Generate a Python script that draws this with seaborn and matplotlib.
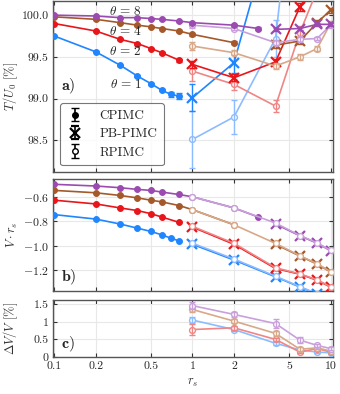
import numpy as np
import matplotlib
matplotlib.use("Agg")
import matplotlib.pyplot as plt
import seaborn as sns

# ---------------- data ----------------
thetas = ["1", "2", "4", "8"]
dark_colors = ["#1f86ff", "#e8161b", "#a5592b", "#9b4bb0"]
light_colors = ["#8cbcff", "#f08585", "#d8a888", "#c9a0dc"]

# panel a: T/U0 [%]
cp_rs = {
    "1": [0.1, 0.2, 0.3, 0.4, 0.5, 0.6, 0.7, 0.8],
    "2": [0.1, 0.2, 0.3, 0.4, 0.5, 0.6, 0.8],
    "4": [0.1, 0.2, 0.3, 0.4, 0.5, 0.6, 0.8, 1, 2],
    "8": [0.1, 0.2, 0.3, 0.4, 0.5, 0.6, 0.8, 1, 2, 3],
}
cp_T = {
    "1": [99.75, 99.56, 99.40, 99.27, 99.18, 99.10, 99.05, 99.03],
    "2": [99.90, 99.81, 99.71, 99.66, 99.60, 99.55, 99.46],
    "4": [99.98, 99.95, 99.91, 99.88, 99.86, 99.84, 99.81, 99.77, 99.67],
    "8": [100.0, 99.99, 99.97, 99.97, 99.96, 99.95, 99.93, 99.91, 99.88, 99.84],
}
cp_T_err = {
    "1": [0.005, 0.005, 0.008, 0.01, 0.012, 0.015, 0.03, 0.035],
    "2": [0.005, 0.005, 0.006, 0.008, 0.01, 0.012, 0.02],
    "4": [0.004, 0.004, 0.005, 0.005, 0.006, 0.008, 0.01, 0.015, 0.02],
    "8": [0.003, 0.003, 0.004, 0.004, 0.005, 0.005, 0.006, 0.01, 0.015, 0.015],
}
pb_rs_a = {
    "1": [1, 2, 4],
    "2": [1, 2, 4, 6, 8],
    "4": [4, 6, 8, 10],
    "8": [4, 6, 8, 10],
}
pb_T = {
    "1": [99.01, 99.43, 101.2],
    "2": [99.41, 99.25, 99.44, 100.10, 100.40],
    "4": [99.64, 99.69, 99.91, 100.06],
    "8": [99.83, 99.84, 99.89, 99.89],
}
pb_T_err = {
    "1": [0.16, 0.12, 0.10],
    "2": [0.04, 0.04, 0.04, 0.05, 0.05],
    "4": [0.03, 0.03, 0.03, 0.03],
    "8": [0.02, 0.02, 0.02, 0.02],
}
rp_rs_a = {
    "1": [1, 2, 4, 6],
    "2": [1, 2, 4, 6, 8],
    "4": [1, 2, 4, 6, 8, 10],
    "8": [1, 2, 4, 6, 8, 10],
}
rp_T = {
    "1": [98.51, 98.78, 99.72, 102.3],
    "2": [99.33, 99.17, 98.91, 99.79, 100.30],
    "4": [99.63, 99.55, 99.39, 99.50, 99.60, 99.90],
    "8": [99.88, 99.84, 99.67, 99.71, 99.72, 99.88],
}
rp_T_err = {
    "1": [0.34, 0.20, 0.22, 0.30],
    "2": [0.12, 0.07, 0.07, 0.08, 0.10],
    "4": [0.05, 0.03, 0.04, 0.04, 0.03, 0.03],
    "8": [0.03, 0.02, 0.03, 0.03, 0.02, 0.03],
}

# panel b: V * r_s
cp_V = {
    "1": [-0.744, -0.781, -0.822, -0.856, -0.883, -0.911, -0.939, -0.961],
    "2": [-0.625, -0.656, -0.689, -0.711, -0.736, -0.764, -0.808],
    "4": [-0.544, -0.564, -0.586, -0.606, -0.625, -0.639, -0.669, -0.703, -0.828],
    "8": [-0.494, -0.508, -0.522, -0.536, -0.544, -0.558, -0.578, -0.597, -0.689, -0.764],
}
pb_rs_b = {
    "1": [1, 2, 4, 6, 8, 10],
    "2": [1, 2, 4, 6, 8, 10],
    "4": [4, 6, 8, 10],
    "8": [4, 6, 8, 10],
}
pb_V = {
    "1": [-0.989, -1.119, -1.258, -1.342, -1.400, -1.450],
    "2": [-0.847, -0.989, -1.189, -1.236, -1.286, -1.342],
    "4": [-0.989, -1.086, -1.153, -1.217],
    "8": [-0.822, -0.919, -0.980, -1.042],
}
rp_rs_b = [1, 2, 4, 6, 8, 10]
rp_V = {
    "1": [-0.980, -1.111, -1.253, -1.339, -1.398, -1.448],
    "2": [-0.841, -0.981, -1.183, -1.234, -1.283, -1.340],
    "4": [-0.703, -0.828, -0.982, -1.084, -1.150, -1.215],
    "8": [-0.597, -0.689, -0.814, -0.917, -0.977, -1.040],
}

# panel c: Delta V / V [%]
rp_rs_c = [1, 2, 4, 6, 8, 10]
dV = {
    "1": [1.05, 0.78, 0.39, 0.20, 0.14, 0.12],
    "2": [0.78, 0.83, 0.50, 0.14, 0.24, 0.14],
    "4": [1.35, 1.02, 0.67, 0.22, 0.26, 0.17],
    "8": [1.46, 1.21, 0.95, 0.48, 0.33, 0.24],
}
dV_err = {
    "1": [0.08, 0.05, 0.04, 0.03, 0.03, 0.03],
    "2": [0.15, 0.06, 0.05, 0.04, 0.04, 0.04],
    "4": [0.08, 0.06, 0.06, 0.06, 0.04, 0.04],
    "8": [0.10, 0.06, 0.12, 0.08, 0.05, 0.05],
}

x_ticks = [0.1, 0.2, 0.5, 1, 2, 5, 10]
x_ticklabels = ["0.1", "0.2", "0.5", "1", "2", "5", "10"]
a_ticks = [98.5, 99.0, 99.5, 100.0]
a_ticklabels = ["98.5", "99.0", "99.5", "100.0"]
b_ticks = [-1.2, -1.0, -0.8, -0.6]
b_ticklabels = ["$-1.2$", "$-1.0$", "$-0.8$", "$-0.6$"]
c_ticks = [0, 0.5, 1, 1.5]
c_ticklabels = ["0", "0.5", "1", "1.5"]
theta_text = [r"$\theta\,=\,8$", r"$\theta\,=\,4$", r"$\theta\,=\,2$", r"$\theta\,=\,1$"]
theta_y = [100.04, 99.81, 99.56, 99.17]

# ---------------- style ----------------
sns.set_style("ticks")
plt.rcParams.update({
    "font.family": "serif",
    "font.serif": ["cmr10", "DejaVu Serif"],
    "mathtext.fontset": "cm",
    "axes.formatter.use_mathtext": True,
    "font.size": 8.5,
    "axes.unicode_minus": True,
})

fig = plt.figure(figsize=(3.4, 3.94), dpi=100)
L, W = 0.156, 0.823
ax_a = fig.add_axes([L, 0.5635, W, 0.434])
ax_b = fig.add_axes([L, 0.2614, W, 0.2843])
ax_c = fig.add_axes([L, 0.0939, W, 0.1447])

LW = 1.2
CAP = 2.5


def draw(ax, x, y, err, color, kind, zorder):
    if kind == "cp":
        mk = dict(marker="o", markersize=4.2, markerfacecolor=color, markeredgecolor=color)
    elif kind == "pb":
        mk = dict(marker="x", markersize=7, markeredgewidth=1.6, markeredgecolor=color)
    else:
        mk = dict(marker="o", markersize=4.2, markerfacecolor="white", markeredgecolor=color,
                  markeredgewidth=1.0)
    sns.lineplot(x=x, y=y, ax=ax, color=color, linewidth=LW, zorder=zorder,
                 estimator=None, sort=False, legend=False, **mk)
    if err is not None:
        ax.errorbar(x, y, yerr=err, fmt="none", ecolor=color, elinewidth=1.0,
                    capsize=CAP, capthick=1.0, zorder=zorder)


for i, th in enumerate(thetas):
    dc, lc = dark_colors[i], light_colors[i]
    z = 3 + i
    # panel a
    draw(ax_a, rp_rs_a[th], rp_T[th], rp_T_err[th], lc, "rp", z)
    draw(ax_a, pb_rs_a[th], pb_T[th], pb_T_err[th], dc, "pb", z + 0.5)
    draw(ax_a, cp_rs[th], cp_T[th], cp_T_err[th], dc, "cp", z + 0.5)
    # panel b
    draw(ax_b, cp_rs[th], cp_V[th], None, dc, "cp", z)
    draw(ax_b, pb_rs_b[th], pb_V[th], None, dc, "pb", z)
    draw(ax_b, rp_rs_b, rp_V[th], None, lc, "rp", z + 0.5)
    # panel c
    draw(ax_c, rp_rs_c, dV[th], dV_err[th], lc, "rp", z)

for ax in (ax_a, ax_b, ax_c):
    ax.set_xscale("log")
    ax.set_xlim(0.098, 10.4)
    ax.set_xticks(x_ticks)
    ax.xaxis.set_minor_locator(matplotlib.ticker.NullLocator())
    ax.grid(True, color="#e8e8e8", linewidth=0.8, zorder=0)
    ax.set_axisbelow(True)
    ax.tick_params(direction="in", top=True, right=True, length=3, width=0.8,
                   color="#333333", labelsize=8.5, pad=3)
    for s in ax.spines.values():
        s.set_color("#555555")
        s.set_linewidth(1.0)
    ax.set_xlabel("")
    ax.set_ylabel("")

ax_a.set_xticklabels([])
ax_b.set_xticklabels([])
ax_c.set_xticklabels(x_ticklabels)

ax_a.set_ylim(98.12, 100.17)
ax_a.set_yticks(a_ticks)
ax_a.set_yticklabels(a_ticklabels)
ax_b.set_ylim(-1.375, -0.45)
ax_b.set_yticks(b_ticks)
ax_b.set_yticklabels(b_ticklabels)
ax_c.set_ylim(0, 1.62)
ax_c.set_yticks(c_ticks)
ax_c.set_yticklabels(c_ticklabels)

ax_a.set_ylabel(r"$T/U_0$ [%]", color="#333333", fontsize=9)
ax_b.set_ylabel(r"$V\cdot r_s$", color="#333333", fontsize=9)
ax_c.set_ylabel(r"$\Delta V/V$ [%]", color="#333333", fontsize=9)
ax_c.set_xlabel(r"$r_s$", color="#333333", fontsize=9)
for ax in (ax_a, ax_b, ax_c):
    ax.yaxis.set_label_coords(-0.118, 0.5)

# theta annotations
for txt, yv in zip(theta_text, theta_y):
    ax_a.text(0.33, yv, txt, ha="center", va="center", fontsize=9.5, zorder=10)

# panel letters
ax_a.text(0.03, 0.5, r"$\mathbf{a)}$", transform=ax_a.transAxes, fontsize=11.5,
          ha="left", va="center")
ax_b.text(0.03, 0.12, r"$\mathbf{b)}$", transform=ax_b.transAxes, fontsize=11.5,
          ha="left", va="center")
ax_c.text(0.03, 0.22, r"$\mathbf{c)}$", transform=ax_c.transAxes, fontsize=11.5,
          ha="left", va="center")

# legend
h1 = ax_a.errorbar([np.nan], [np.nan], yerr=[np.nan], fmt="o", color="k", ms=4,
                   capsize=3, elinewidth=1.2, label="CPIMC")
h2 = ax_a.errorbar([np.nan], [np.nan], yerr=[np.nan], fmt="x", color="k", ms=7,
                   mew=1.6, capsize=3, elinewidth=1.2, label="PB-PIMC")
h3 = ax_a.errorbar([np.nan], [np.nan], yerr=[np.nan], fmt="o", color="k", ms=4,
                   mfc="white", capsize=3, elinewidth=1.2, label="RPIMC")
leg = ax_a.legend(handles=[h1, h2, h3], loc="lower left", bbox_to_anchor=(0.025, 0.04),
                  frameon=True, fancybox=True, fontsize=9.5, handlelength=1.2,
                  labelspacing=0.45, borderpad=0.5, handletextpad=1.3, borderaxespad=0)
leg.get_frame().set_edgecolor("#555555")
leg.get_frame().set_linewidth(0.8)

fig.savefig("out.png", dpi=100)
